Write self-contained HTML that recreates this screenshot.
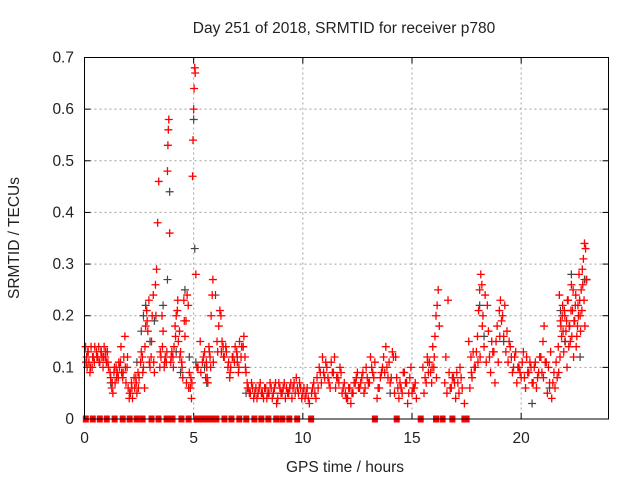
<!DOCTYPE html>
<html><head><meta charset="utf-8"><style>
body{margin:0;background:#fff;}
svg text{font-family:"Liberation Sans",sans-serif;fill:#222;}
</style></head><body>
<svg id="chart" width="640" height="480" xmlns="http://www.w3.org/2000/svg">
<rect width="640" height="480" fill="#fff"/>
<text x="344" y="33" font-size="15.5" text-anchor="middle">Day 251 of 2018, SRMTID for receiver p780</text>
<text transform="translate(19,238) rotate(-90)" font-size="15.5" text-anchor="middle">SRMTID / TECUs</text>
<text x="345" y="472" font-size="15.5" text-anchor="middle">GPS time / hours</text>
<g id="grid"></g><g id="ticks"></g><g id="grey"></g><g id="red"></g>
<rect x="84.5" y="57.5" width="524" height="361.5" fill="none" stroke="#000" stroke-width="1"/>
</svg>
<script>
const xTicks=[0,5,10,15,20];
const yTicks=[0,0.1,0.2,0.3,0.4,0.5,0.6,0.7];
const yTickLabels=["0","0.1","0.2","0.3","0.4","0.5","0.6","0.7"];
const redT=[0.05,0.1,0.12,0.15,0.2,0.25,0.3,0.35,0.4,0.45,0.55,0.6,0.65,0.7,0.75,0.8,0.85,0.9,0.95,1.0,1.05,1.1,
1.2,1.25,1.3,1.35,1.4,1.45,1.5,1.55,1.6,1.65,1.7,1.75,1.8,1.85,1.9,1.95,
2.0,2.05,2.1,2.15,2.2,2.3,2.35,2.4,2.45,2.5,
2.6,2.65,2.7,2.75,2.8,2.85,2.9,2.95,3.0,3.05,3.1,3.15,3.2,3.25,3.3,3.35,3.4,3.45,3.5,
3.55,3.6,3.65,3.7,3.75,3.8,3.82,3.84,3.86,3.9,3.95,4.0,4.05,4.1,4.15,
4.2,4.25,4.3,4.35,4.4,4.45,4.5,4.55,4.6,4.65,4.7,4.75,4.8,4.85,4.9,4.92,
4.95,4.97,5.0,5.02,5.05,5.07,5.1,5.15,
5.3,5.4,5.5,5.55,5.6,5.65,5.7,5.75,5.8,5.85,5.88,5.9,
6.1,6.2,6.25,6.3,6.35,6.4,6.5,6.6,6.65,6.7,6.8,6.9,7.0,7.05,7.1,7.2,7.3,7.35,7.4,7.45,7.5,
7.6,7.7,7.8,7.9,8.0,8.1,8.2,8.3,8.4,8.5,8.6,8.7,8.8,8.9,9.0,9.1,9.2,9.3,9.4,9.5,9.6,9.7,9.8,9.9,10.0,10.1,10.2,10.3,
10.4,10.5,10.6,10.7,10.8,10.9,11.0,11.1,11.2,11.3,11.4,11.5,11.6,11.7,
11.8,11.9,12.0,12.1,12.2,12.3,12.4,12.5,12.6,12.7,12.8,12.9,13.0,13.1,13.2,13.3,
13.4,13.5,13.6,13.7,13.8,13.85,13.9,14.0,14.1,14.15,14.2,14.3,14.4,14.5,14.6,14.7,14.8,14.9,15.0,15.1,15.2,
15.5,15.6,15.7,15.75,15.8,15.9,15.95,16.0,16.05,16.1,16.15,16.2,16.25,
16.5,16.6,16.7,16.8,16.9,17.0,17.1,17.2,17.3,17.4,
17.6,17.7,17.75,17.8,17.9,18.0,18.05,18.1,18.15,18.2,18.25,18.3,18.4,18.5,
18.6,18.7,18.8,18.9,19.0,19.05,19.1,19.2,19.3,19.4,19.5,
19.6,19.7,19.8,19.9,20.0,20.1,20.2,20.3,20.4,20.5,20.6,20.7,20.8,20.9,
21.0,21.05,21.1,21.2,21.3,21.4,21.5,21.6,
21.7,21.75,21.8,21.85,21.9,21.95,22.0,22.05,22.1,22.15,22.2,22.25,22.3,22.35,22.4,22.45,
22.5,22.55,22.6,22.65,22.7,22.75,22.8,22.85,22.9,22.95,23.0];
const redV=[.14,.12,.10,.13,.11,.09,.14,.10,.12,.11,.13,.12,.14,.11,.13,.12,.10,.14,.12,.11,.13,.10,
.08,.06,.05,.09,.07,.10,.09,.08,.10,.11,.09,.08,.12,.16,.07,.10,
.06,.04,.05,.07,.04,.06,.08,.05,.09,.08,
.13,.12,.10,.06,.18,.21,.17,.23,.10,.12,.20,.24,.09,.26,.29,.38,.46,.10,.12,
.20,.17,.10,.12,.11,.48,.53,.56,.58,.36,.11,.13,.12,.14,.18,
.20,.21,.15,.17,.13,.11,.08,.23,.16,.19,.24,.22,.09,.06,.04,.07,
.47,.54,.60,.64,.68,.67,.28,.10,
.15,.11,.13,.08,.10,.07,.14,.12,.20,.24,.27,.11,
.13,.21,.20,.15,.14,.12,.13,.11,.08,.10,.12,.14,.11,.09,.15,.14,.16,.12,.09,.07,.06,
.05,.06,.05,.04,.06,.05,.04,.06,.05,.07,.04,.06,.03,.07,.05,.06,.04,.05,.06,.04,.07,.08,.05,.06,.05,.04,.06,.03,
.05,.07,.04,.06,.09,.12,.08,.10,.07,.11,.09,.06,.08,.10,
.05,.07,.04,.06,.03,.05,.07,.09,.06,.08,.05,.10,.07,.12,.09,.11,
.04,.06,.09,.12,.14,.10,.08,.07,.13,.12,.05,.08,.04,.06,.09,.07,.03,.08,.05,.06,.04,
.10,.08,.12,.09,.11,.07,.14,.10,.16,.20,.22,.25,.18,
.07,.05,.09,.06,.08,.04,.07,.10,.06,.03,
.15,.12,.08,.13,.10,.16,.21,.25,.28,.26,.20,.14,.11,.17,
.09,.13,.07,.18,.21,.23,.19,.16,.13,.11,.14,
.09,.12,.07,.10,.08,.13,.06,.09,.11,.07,.10,.06,.09,.12,
.15,.18,.11,.05,.07,.04,.09,.11,
.14,.24,.19,.16,.22,.13,.20,.17,.10,.23,.18,.15,.26,.21,.12,.19,
.24,.16,.22,.28,.20,.25,.29,.31,.34,.33,.27];
const redT2=[0.07,0.17,0.27,0.37,0.47,0.57,0.67,0.77,0.87,0.97,1.07,1.17,1.27,1.37,1.47,1.57,1.67,1.77,1.87,1.97,2.07,2.17,2.27,2.37,2.47,2.57,2.67,2.77,2.87,2.97,3.07,3.17,3.27,3.47,3.57,3.67,3.77,3.97,4.07,4.17,4.27,4.37,4.47,4.57,4.67,4.77,4.87,5.2,5.33,5.45,5.58,5.62,5.72,5.78,6.07,6.15,6.27,6.37,6.47,6.57,6.67,6.77,6.87,6.97,7.07,7.17,7.27,7.37,7.47,7.55,7.65,7.75,7.85,7.95,8.05,8.15,8.25,8.35,8.45,8.55,8.65,8.75,8.85,8.95,9.05,9.15,9.25,9.35,9.45,9.55,9.65,9.75,9.85,9.95,10.05,10.15,10.25,10.45,10.55,10.65,10.75,10.85,10.95,11.05,11.15,11.25,11.35,11.45,11.55,11.65,11.75,11.85,11.95,12.05,12.15,12.25,12.35,12.45,12.55,12.65,12.75,12.85,12.95,13.05,13.15,13.25,13.45,13.55,13.65,13.75,13.95,14.05,14.25,14.35,14.45,14.55,14.65,14.75,14.85,14.95,15.05,15.15,15.55,15.65,15.72,15.85,15.92,16.02,16.12,16.55,16.65,16.75,16.85,16.95,17.05,17.15,17.25,17.65,17.72,17.85,17.95,18.02,18.12,18.22,18.35,18.45,18.55,18.65,18.75,18.85,18.95,19.02,19.15,19.25,19.35,19.45,19.55,19.65,19.75,19.85,19.95,20.05,20.15,20.25,20.35,20.45,20.55,20.65,20.75,20.85,20.95,21.02,21.15,21.25,21.35,21.45,21.55,21.65,21.72,21.78,21.82,21.88,21.92,21.98,22.02,22.08,22.12,22.18,22.22,22.28,22.32,22.38,22.42,22.48,22.52,22.58,22.62,22.68,22.72,22.78,22.82,22.88,22.92,22.98];
const redV2=[.11,.13,.10,.12,.14,.12,.11,.13,.12,.13,.11,.09,.07,.10,.08,.11,.14,.09,.10,.12,.05,.06,.08,.07,.06,.11,.09,.14,.19,.11,.15,.11,.20,.13,.14,.11,.13,.12,.10,.16,.23,.12,.10,.19,.07,.06,.08,.10,.09,.12,.11,.08,.13,.10,.15,.18,.13,.12,.14,.10,.09,.12,.11,.13,.10,.12,.14,.10,.06,.05,.07,.04,.06,.05,.07,.05,.06,.04,.05,.06,.05,.07,.04,.06,.05,.07,.06,.05,.07,.06,.05,.06,.07,.04,.06,.05,.04,.06,.05,.08,.10,.07,.09,.11,.08,.06,.09,.12,.08,.07,.09,.06,.05,.04,.06,.05,.07,.08,.06,.07,.09,.06,.08,.07,.10,.08,.06,.08,.10,.09,.11,.08,.12,.06,.07,.05,.09,.07,.05,.10,.06,.07,.05,.07,.11,.09,.10,.12,.08,.12,.23,.06,.08,.07,.09,.05,.08,.06,.09,.10,.13,.11,.12,.18,.24,.22,.12,.15,.13,.15,.11,.16,.20,.22,.17,.15,.12,.10,.13,.10,.09,.11,.08,.12,.09,.10,.07,.11,.08,.12,.09,.08,.11,.10,.13,.07,.06,.08,.09,.12,.18,.20,.17,.21,.15,.19,.23,.14,.18,.21,.16,.25,.19,.22,.14,.18,.20,.23,.17,.21,.26,.23,.18,.27,.24,.30,.28,.32,.35];
const greyT=[1.2,2.4,2.6,2.7,2.8,3.0,3.2,3.6,3.8,3.9,4.2,4.4,4.6,4.8,5.0,5.05,5.1,5.5,5.6,6.0,7.0,7.4,12,14,18.1,18.3,19.2,20.5,21.3,21.8,22.0,22.3,22.7,22.9];
const greyV=[.07,.11,.17,.20,.22,.15,.19,.22,.27,.44,.13,.09,.25,.12,.58,.33,.11,.10,.07,.24,.12,.05,.04,.05,.22,.16,.15,.03,.06,.21,.15,.28,.12,.27];
const zeroT=[.06,.38,.70,1.02,1.38,1.75,2.07,2.39,2.66,3.07,3.39,3.76,4.03,4.44,4.77,5.13,5.31,5.49,5.68,5.86,6.04,6.41,6.73,7.09,7.41,7.78,8.1,8.42,8.78,9.06,9.38,9.74,10.38,13.3,14.3,15.4,16.1,16.4,16.85,17.4,17.5];

const X0=84.5,X1=608.5,Y0=419,Y1=57.5;
const xs=t=>X0+(t/24)*(X1-X0);
const ys=v=>Y0-(v/0.7)*(Y0-Y1);
const NS="http://www.w3.org/2000/svg";
function mk(tag,attrs,parent){const e=document.createElementNS(NS,tag);for(const k in attrs)e.setAttribute(k,attrs[k]);parent.appendChild(e);return e;}
const grid=document.getElementById('grid'),ticks=document.getElementById('ticks');
xTicks.forEach(t=>{const x=xs(t);
 if(t>0){const g=mk('line',{x1:x,x2:x,y1:Y1,y2:Y0,stroke:'#a0a0a0','stroke-dasharray':'2,3'},grid);
 
 }
 mk('line',{x1:x,x2:x,y1:Y0,y2:Y0-6,stroke:'#000'},ticks);
 mk('line',{x1:x,x2:x,y1:Y1,y2:Y1+6,stroke:'#000'},ticks);
 const l=mk('text',{x:x,y:443,'font-size':15.5,'text-anchor':'middle'},ticks);l.textContent=t;
 
 
});
yTicks.forEach((v,i)=>{const y=ys(v);
 if(v>0&&v<0.7){const g=mk('line',{x1:X0,x2:X1,y1:y,y2:y,stroke:'#a0a0a0','stroke-dasharray':'2,3'},grid);
 
 }
 mk('line',{x1:X0,x2:X0+6,y1:y,y2:y,stroke:'#000'},ticks);
 mk('line',{x1:X1,x2:X1-6,y1:y,y2:y,stroke:'#000'},ticks);
 const l=mk('text',{x:74,y:y+5,'font-size':15.5,'text-anchor':'end'},ticks);l.textContent=yTickLabels[i];
 
 
});
function plus(g,t,v,col,w){const x=xs(t),y=ys(v);
 return mk('path',{d:`M${x-4},${y}H${x+4}M${x},${y-4}V${y+4}`,stroke:col,'stroke-width':w,fill:'none'},g);}
const grey=document.getElementById('grey'),red=document.getElementById('red');
greyT.forEach((t,i)=>{const p=plus(grey,t,greyV[i],'#444',1.2);
 
 });
redT.forEach((t,i)=>{const p=plus(red,t,redV[i],'#f00',1.3);
 
 });
redT2.forEach((t,i)=>{const p=plus(red,t,redV2[i],'#f00',1.3);
 
 });
zeroT.forEach(t=>{const x=xs(t),y=ys(0);
 const p=mk('rect',{x:x-3,y:y-3.5,width:6,height:7,fill:'#f00'},red);
 
 });
</script>
</body></html>
